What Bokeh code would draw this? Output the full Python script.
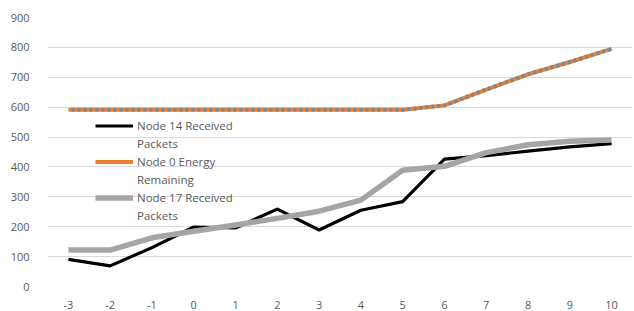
from bokeh.plotting import figure
from bokeh.models import Range1d, Legend, LegendItem, FixedTicker
from bokeh.embed import file_html
from bokeh.resources import INLINE

x_values = [-3, -2, -1, 0, 1, 2, 3, 4, 5, 6, 7, 8, 9, 10]
node14_received = [91, 69, 130, 199, 196, 259, 189, 255, 284, 426, 438, 453, 467, 478]
node0_energy = [591, 591, 591, 591, 591, 591, 591, 591, 591, 606, 659, 710, 751, 795]
node17_received = [122, 122, 163, 185, 206, 228, 252, 289, 389, 402, 448, 474, 486, 490]
y_ticks = [0, 100, 200, 300, 400, 500, 600, 700, 800, 900]
x_tick_labels = {v: str(v) for v in x_values}

legend_lines = [("Node 14 Received", "Packets"),
                ("Node 0 Energy", "Remaining"),
                ("Node 17 Received", "Packets")]

p = figure(width=634, height=311, output_backend="svg", toolbar_location=None,
           x_range=Range1d(-3.5, 10.5), y_range=Range1d(0, 900),
           min_border_left=47, min_border_right=2, min_border_top=17, min_border_bottom=24)
p.outline_line_color = None
p.background_fill_color = "white"
p.border_fill_color = "white"

FONT = "Open Sans"
TXT = "#595959"
for ax in (p.xaxis[0], p.yaxis[0]):
    ax.axis_line_color = None
    ax.major_tick_line_color = None
    ax.minor_tick_line_color = None
    ax.major_label_text_font = FONT
    ax.major_label_text_font_size = "11px"
    ax.major_label_text_color = TXT
p.xaxis[0].ticker = FixedTicker(ticks=x_values)
p.xaxis[0].major_label_overrides = x_tick_labels
p.yaxis[0].ticker = FixedTicker(ticks=y_ticks)
p.yaxis[0].major_label_standoff = 12
p.xaxis[0].major_label_standoff = 8
p.xgrid.grid_line_color = None
p.ygrid.grid_line_color = "#d9d9d9"
p.ygrid.grid_line_width = 1

r14 = p.line(x_values, node14_received, line_color="#000000", line_width=3.2, line_join="round")
r0 = p.line(x_values, node0_energy, line_color="#ed7d31", line_width=4, line_join="round")
p.line(x_values, node0_energy, line_color="#7a8898", line_width=4, line_dash="3 3", line_dash_offset=3)
r17 = p.line(x_values, node17_received, line_color="#a5a5a5", line_width=5.5, line_join="round")
blank = p.line([], [], line_alpha=0)

items = []
for (first, second), r in zip(legend_lines, [r14, r0, r17]):
    items.append(LegendItem(label=first, renderers=[r]))
    items.append(LegendItem(label=second, renderers=[blank]))

legend = Legend(items=items, location=(48, 63), orientation="vertical")
legend.background_fill_alpha = 0
legend.border_line_color = None
legend.padding = 0
legend.margin = 0
legend.spacing = 3
legend.glyph_width = 38
legend.glyph_height = 15
legend.label_height = 15
legend.label_standoff = 4
legend.label_text_font = FONT
legend.label_text_font_size = "11.5px"
legend.label_text_color = TXT
legend.label_text_baseline = "middle"
p.add_layout(legend, "center")

open("out.html", "w").write(file_html(p, INLINE))
